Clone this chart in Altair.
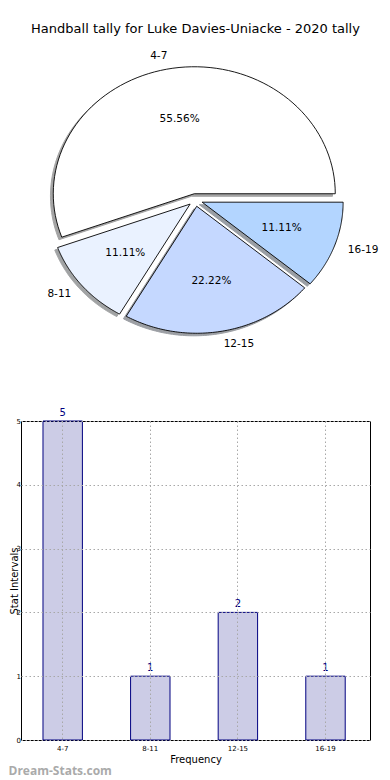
import altair as alt
import pandas as pd

# ---- data ----
labels = ["4-7", "8-11", "12-15", "16-19"]
counts = [5, 1, 2, 1]
slice_colors = ["#ffffff", "#eaf2ff", "#c5d8ff", "#b3d5ff"]
title_text = "Handball tally for Luke Davies-Uniacke - 2020 tally"
y_ticks = [0, 1, 2, 3, 4, 5]

shadow_colors = [
    "#%02x%02x%02x" % tuple(int(round(0.3 * int(c[i:i + 2], 16))) for i in (1, 3, 5))
    for c in slice_colors
]

df = pd.DataFrame({"label": labels, "count": counts, "idx": list(range(len(labels)))})

FONT = "DejaVu Sans"
N = 80
EXPLODE = 0.05
PX_X = 141.0   # pixels per unit horizontally
PX_Y = 127.0   # pixels per unit vertically
PIE_W = 349
PIE_H = 310
PIE_LEFT_OFF = 174.5   # pixel offset of pie centre from view left
PIE_TOP_OFF = 155.0    # pixel offset of pie centre from view top

xdom = [-PIE_LEFT_OFF / PX_X, (PIE_W - PIE_LEFT_OFF) / PX_X]
ydom = [-(PIE_H - PIE_TOP_OFF) / PX_Y, PIE_TOP_OFF / PX_Y]

xs = alt.Scale(domain=xdom, nice=False, zero=False)
ys = alt.Scale(domain=ydom, nice=False, zero=False)

base = (
    alt.Chart(df)
    .transform_joinaggregate(total="sum(count)")
    .transform_window(cum="sum(count)", sort=[alt.SortField("idx")])
    .transform_calculate(
        a0="2*PI*(datum.cum - datum.count)/datum.total",
        a1="2*PI*datum.cum/datum.total",
    )
    .transform_calculate(mid="(datum.a0 + datum.a1)/2")
    .transform_calculate(
        ex=f"{EXPLODE}*cos(datum.mid)",
        ey=f"{EXPLODE}*sin(datum.mid)",
    )
)

shape = (
    base.transform_calculate(steps=f"sequence(0, {N + 2})")
    .transform_flatten(["steps"])
    .transform_calculate(
        ang=f"datum.a0 + (datum.a1 - datum.a0)*(datum.steps - 1)/({N} - 1)",
        rr=f"(datum.steps == 0 || datum.steps == {N + 1}) ? 0 : 1",
    )
    .transform_calculate(
        px="datum.ex + datum.rr*cos(datum.ang)",
        py="datum.ey + datum.rr*sin(datum.ang)",
    )
)

shadow = (
    shape.transform_calculate(sx="datum.px - 0.02", sy="datum.py - 0.02", slab="datum.label")
    .mark_line(opacity=0.5, strokeWidth=1, interpolate="linear")
    .encode(
        x=alt.X("sx:Q", scale=xs, axis=None),
        y=alt.Y("sy:Q", scale=ys, axis=None),
        detail="label:N",
        order=alt.Order("steps:Q"),
        fill=alt.Fill("slab:N", scale=alt.Scale(domain=labels, range=shadow_colors), legend=None),
        stroke=alt.Stroke("slab:N", scale=alt.Scale(domain=labels, range=shadow_colors), legend=None),
    )
)

wedges = shape.mark_line(stroke="black", strokeWidth=0.9, interpolate="linear").encode(
    x=alt.X("px:Q", scale=xs, axis=None),
    y=alt.Y("py:Q", scale=ys, axis=None),
    detail="label:N",
    order=alt.Order("steps:Q"),
    fill=alt.Fill("label:N", scale=alt.Scale(domain=labels, range=slice_colors), legend=None),
)

lab = base.transform_calculate(
    lx="datum.ex + 1.1*cos(datum.mid)",
    ly="datum.ey + 1.1*sin(datum.mid)",
    qx="datum.ex + 0.6*cos(datum.mid)",
    qy="datum.ey + 0.6*sin(datum.mid)",
    pct="format(100*datum.count/datum.total, '.2f') + '%'",
)

lab_left = lab.transform_filter("datum.lx < 0").mark_text(
    align="right", baseline="middle", font=FONT, fontSize=10.5, color="black"
).encode(x=alt.X("lx:Q", scale=xs, axis=None), y=alt.Y("ly:Q", scale=ys, axis=None), text="label:N")

lab_right = lab.transform_filter("datum.lx >= 0").mark_text(
    align="left", baseline="middle", font=FONT, fontSize=10.5, color="black"
).encode(x=alt.X("lx:Q", scale=xs, axis=None), y=alt.Y("ly:Q", scale=ys, axis=None), text="label:N")

pct = lab.mark_text(
    align="center", baseline="middle", font=FONT, fontSize=10.5, color="black"
).encode(x=alt.X("qx:Q", scale=xs, axis=None), y=alt.Y("qy:Q", scale=ys, axis=None), text="pct:N")

pie = (
    alt.layer(shadow, wedges, lab_left, lab_right, pct)
    .resolve_scale(fill="independent", stroke="independent")
    .properties(
        width=PIE_W,
        height=PIE_H,
        view=alt.ViewBackground(stroke=None),
        title=alt.TitleParams(
            title_text, font=FONT, fontSize=13, fontWeight="normal", color="black",
            anchor="middle", offset=9,
        ),
    )
)

# ---- bar chart ----
grid_kw = dict(grid=True, gridDash=[1.5, 2.5], gridColor="#a8a8a8", gridWidth=1)

bx = alt.X(
    "label:N",
    sort=labels,
    scale=alt.Scale(paddingInner=0.55, paddingOuter=0.267, align=0.47),
    axis=alt.Axis(
        title="Frequency", titleFont=FONT, titleFontSize=10, titleFontWeight="normal",
        titleColor="black", titlePadding=3,
        labelFont=FONT, labelFontSize=7, labelColor="black", labelAngle=0, labelPadding=4,
        ticks=False, domain=False, bandPosition=0.5, zindex=1, **grid_kw,
    ),
)
by = alt.Y(
    "count:Q",
    scale=alt.Scale(domain=[0, 5], nice=False),
    axis=alt.Axis(
        title="Stat Intervals", titleFont=FONT, titleFontSize=10, titleFontWeight="normal",
        titleColor="black", titleX=-4, titleBaseline="alphabetic",
        values=y_ticks, format="d",
        labelFont=FONT, labelFontSize=7, labelColor="black", labelPadding=0.5,
        ticks=False, domain=False, zindex=1, **grid_kw,
    ),
)

bars = alt.Chart(df).mark_bar(
    fill="#000080", fillOpacity=0.2, stroke="#000080", strokeWidth=1
).encode(x=bx, y=by)

vals = alt.Chart(df).mark_text(
    baseline="bottom", dy=-3, color="#000080", font=FONT, fontSize=10
).encode(x=alt.X("label:N", sort=labels), y="count:Q", text="count:Q")

bar = alt.layer(bars, vals).properties(
    width=349, height=319,
    view=alt.ViewBackground(stroke="black", strokeWidth=1),
)

chart = alt.vconcat(pie, bar, spacing=52).properties(
    padding={"left": 0, "top": 15, "right": 0, "bottom": 0},
    title=alt.TitleParams(
        "Dream-Stats.com", orient="bottom", anchor="start", font="Open Sans",
        fontSize=12, fontWeight="bold", color="#aaaaaa", offset=1,
    ),
).configure(background="white")

chart.save("out.html", embed_options={"renderer": "svg", "actions": False})
